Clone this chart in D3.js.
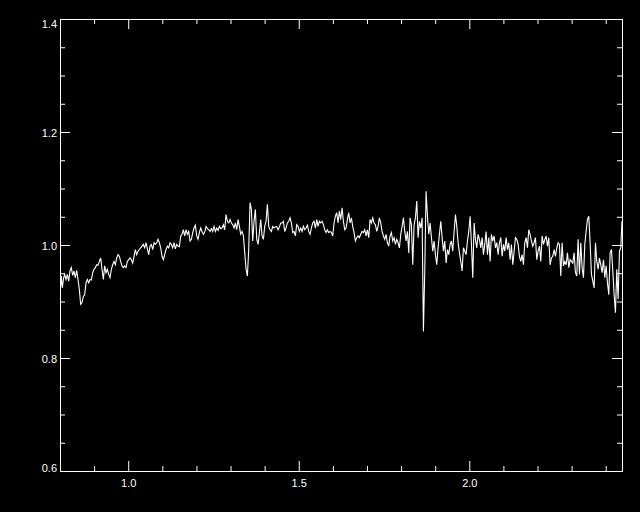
<!DOCTYPE html>
<html>
<head>
<meta charset="utf-8">
<script src="https://cdn.jsdelivr.net/npm/d3@7"></script>
<style>
  body { margin: 0; background: #000; }
  svg { display: block; background: #000; }
  .axis text { fill: #fff; font-family: "Liberation Sans", Arial, sans-serif; font-size: 11px; }
  .axis line { stroke: #fff; stroke-width: 1; }
  .axis path { display: none; }
</style>
</head>
<body>
<svg id="chart" width="640" height="512"></svg>
<script>
// spectrum
const wavelength = [
  0.8020, 0.8039, 0.8068, 0.8108, 0.8137,
  0.8176, 0.8215, 0.8254, 0.8293, 0.8332, 0.8372, 0.8411, 0.8450, 0.8489, 0.8528,
  0.8567, 0.8606, 0.8645, 0.8684, 0.8723, 0.8763, 0.8802, 0.8841, 0.8880, 0.8919,
  0.8958, 0.8997, 0.9036, 0.9075, 0.9114, 0.9154, 0.9193, 0.9232, 0.9271, 0.9310,
  0.9349, 0.9388, 0.9427, 0.9466, 0.9505, 0.9545, 0.9584, 0.9623, 0.9662, 0.9701,
  0.9740, 0.9779, 0.9818, 0.9857, 0.9896, 0.9936, 0.9975, 1.0014, 1.0053, 1.0092,
  1.0131, 1.0170, 1.0209, 1.0248, 1.0287, 1.0327, 1.0366, 1.0405, 1.0444, 1.0483,
  1.0522, 1.0561, 1.0600, 1.0639, 1.0678, 1.0718, 1.0757, 1.0796, 1.0835, 1.0874,
  1.0913, 1.0952, 1.0991, 1.1030, 1.1069, 1.1109, 1.1148, 1.1187,
  1.1226, 1.1265, 1.1304, 1.1343, 1.1382, 1.1422, 1.1461, 1.1500, 1.1539, 1.1578,
  1.1617, 1.1656, 1.1695, 1.1734, 1.1773, 1.1813, 1.1852, 1.1891, 1.1930, 1.1969,
  1.2008, 1.2047, 1.2086, 1.2125, 1.2164, 1.2204, 1.2243, 1.2282, 1.2321, 1.2360,
  1.2399, 1.2438, 1.2477, 1.2516, 1.2555, 1.2595, 1.2634, 1.2673, 1.2712, 1.2751,
  1.2790, 1.2829, 1.2868, 1.2907, 1.2946, 1.2986, 1.3025, 1.3064, 1.3103, 1.3142,
  1.3181, 1.3220, 1.3259, 1.3298, 1.3337, 1.3377, 1.3416, 1.3455, 1.3494, 1.3533,
  1.3572, 1.3611, 1.3650, 1.3689, 1.3728, 1.3768, 1.3807, 1.3846, 1.3885, 1.3924,
  1.3963, 1.4002, 1.4041, 1.4080, 1.4119, 1.4159, 1.4198, 1.4237, 1.4276, 1.4315,
  1.4354, 1.4393, 1.4432, 1.4471,
  1.4510, 1.4549, 1.4588, 1.4627, 1.4666, 1.4706, 1.4745, 1.4784, 1.4823, 1.4862,
  1.4901, 1.4940, 1.4979, 1.5018, 1.5057, 1.5097, 1.5136, 1.5175, 1.5214, 1.5253,
  1.5292, 1.5331, 1.5370, 1.5409, 1.5448, 1.5488, 1.5527, 1.5566, 1.5605, 1.5644,
  1.5683, 1.5722, 1.5761, 1.5800, 1.5839, 1.5879, 1.5918, 1.5957, 1.5996, 1.6035,
  1.6074, 1.6113, 1.6152, 1.6191, 1.6230, 1.6270, 1.6309, 1.6348, 1.6387, 1.6426,
  1.6465, 1.6504, 1.6543, 1.6582, 1.6621, 1.6661, 1.6700, 1.6739, 1.6778, 1.6817,
  1.6856, 1.6895, 1.6934, 1.6973, 1.7012, 1.7052, 1.7091, 1.7130, 1.7169, 1.7208,
  1.7247, 1.7286, 1.7325, 1.7364, 1.7403, 1.7443, 1.7482, 1.7521, 1.7560, 1.7599,
  1.7638, 1.7677, 1.7716, 1.7755,
  1.7795, 1.7834, 1.7873, 1.7912, 1.7951, 1.7991, 1.8030, 1.8069, 1.8108, 1.8147,
  1.8186, 1.8225, 1.8264, 1.8303, 1.8342, 1.8382, 1.8421, 1.8460, 1.8499, 1.8538,
  1.8577, 1.8616, 1.8655, 1.8694, 1.8733, 1.8773, 1.8812, 1.8851, 1.8890, 1.8929,
  1.8968, 1.9007, 1.9046, 1.9085, 1.9124, 1.9164, 1.9203, 1.9242, 1.9281, 1.9320,
  1.9359, 1.9398, 1.9437, 1.9476, 1.9515, 1.9555, 1.9594, 1.9633, 1.9672, 1.9711,
  1.9750, 1.9789, 1.9828, 1.9867, 1.9906, 1.9946, 1.9985, 2.0024, 2.0063, 2.0102,
  2.0141, 2.0180, 2.0219, 2.0258, 2.0297, 2.0337, 2.0376, 2.0415, 2.0454, 2.0493,
  2.0532, 2.0571, 2.0610, 2.0649, 2.0688, 2.0728, 2.0767, 2.0806, 2.0845, 2.0884,
  2.0923, 2.0962, 2.1001, 2.1040,
  2.1079, 2.1118, 2.1157, 2.1196, 2.1235, 2.1275, 2.1314, 2.1353, 2.1392, 2.1431,
  2.1470, 2.1509, 2.1548, 2.1587, 2.1626, 2.1666, 2.1705, 2.1744, 2.1783, 2.1822,
  2.1861, 2.1900, 2.1939, 2.1978, 2.2017, 2.2057, 2.2096, 2.2135, 2.2174, 2.2213,
  2.2252, 2.2291, 2.2330, 2.2369, 2.2408, 2.2448, 2.2487, 2.2526, 2.2565, 2.2604,
  2.2643, 2.2682, 2.2721, 2.2760, 2.2799, 2.2839, 2.2878, 2.2917, 2.2956, 2.2995,
  2.3034, 2.3073, 2.3112, 2.3151, 2.3190, 2.3230, 2.3269, 2.3308, 2.3347, 2.3386,
  2.3425, 2.3464, 2.3503, 2.3542, 2.3581, 2.3621, 2.3660, 2.3699, 2.3738, 2.3777,
  2.3816, 2.3855, 2.3894, 2.3933, 2.3972, 2.4012, 2.4051, 2.4090, 2.4129, 2.4168,
  2.4207, 2.4246, 2.4285, 2.4324, 2.4363, 2.4403, 2.4442, 2.4475
];

const flux = [
  0.927, 0.945, 0.924, 0.942, 0.948,
  0.939, 0.948, 0.936, 0.954, 0.960, 0.946, 0.954, 0.942, 0.955, 0.939,
  0.921, 0.895, 0.898, 0.909, 0.912, 0.933, 0.939, 0.933, 0.939, 0.938,
  0.951, 0.957, 0.960, 0.965, 0.964, 0.971, 0.977, 0.957, 0.939, 0.963,
  0.951, 0.957, 0.948, 0.942, 0.957, 0.965, 0.971, 0.965, 0.977, 0.983,
  0.980, 0.971, 0.963, 0.960, 0.963, 0.960, 0.971, 0.974, 0.977, 0.974,
  0.968, 0.980, 0.992, 0.983, 0.989, 0.992, 0.995, 0.998, 1.001, 0.995,
  1.004, 0.993, 0.983, 0.998, 1.001, 0.992, 1.004, 1.001, 1.004, 1.010,
  1.004, 0.995, 0.980, 0.974, 0.983, 0.992, 0.998, 0.995,
  1.004, 1.001, 0.995, 1.004, 0.993, 1.001, 0.998, 0.997, 1.016, 1.019,
  1.027, 1.016, 1.027, 1.019, 1.024, 1.007, 1.010, 1.022, 1.030, 1.035,
  1.016, 1.010, 1.022, 1.030, 1.024, 1.019, 1.023, 1.033, 1.029, 1.027,
  1.024, 1.029, 1.024, 1.033, 1.024, 1.030, 1.026, 1.033, 1.029, 1.030,
  1.036, 1.027, 1.054, 1.042, 1.039, 1.045, 1.039, 1.036, 1.030, 1.039,
  1.027, 1.045, 1.033, 1.019, 1.024, 1.016, 0.986, 0.957, 0.945, 0.992,
  1.075, 1.063, 1.007, 1.042, 1.063, 1.010, 1.001, 1.022, 1.045, 1.016,
  1.010, 1.033, 1.042, 1.072, 1.033, 1.027, 1.024, 1.033, 1.030, 1.032,
  1.033, 1.027, 1.032, 1.039,
  1.039, 1.042, 1.024, 1.030, 1.039, 1.042, 1.048, 1.039, 1.022, 1.024,
  1.016, 1.036, 1.033, 1.024, 1.030, 1.024, 1.033, 1.027, 1.030, 1.035,
  1.024, 1.019, 1.030, 1.039, 1.042, 1.030, 1.045, 1.033, 1.042, 1.039,
  1.042, 1.036, 1.027, 1.022, 1.027, 1.022, 1.024, 1.022, 1.016, 1.039,
  1.051, 1.057, 1.039, 1.060, 1.045, 1.066, 1.042, 1.027, 1.030, 1.045,
  1.057, 1.039, 1.048, 1.033, 1.022, 1.007, 1.013, 1.016, 1.013, 1.019,
  1.024, 1.022, 1.027, 1.016, 1.027, 1.013, 1.045, 1.039, 1.048, 1.039,
  1.036, 1.024, 1.033, 1.048, 1.039, 1.024, 1.016, 1.010, 1.019, 1.004,
  0.998, 1.016, 1.022, 1.007,
  1.013, 1.001, 1.010, 1.004, 0.995, 1.019, 1.033, 1.048, 1.024, 1.007,
  1.024, 0.986, 1.048, 1.036, 0.965, 1.036, 1.048, 1.078, 1.013, 1.042,
  1.030, 1.048, 0.847, 0.954, 1.095, 1.051, 1.019, 1.039, 1.013, 0.989,
  1.007, 0.983, 0.965, 0.995, 1.019, 1.042, 1.013, 0.989, 1.007, 0.968,
  0.992, 0.983, 1.001, 1.007, 0.989, 1.024, 1.054, 1.033, 1.004, 0.986,
  0.971, 0.954, 0.995, 0.989, 0.983, 1.007, 1.024, 1.051, 1.001, 0.942,
  1.039, 1.010, 0.995, 1.019, 1.010, 0.995, 1.013, 0.983, 1.001, 1.024,
  0.983, 1.013, 0.971, 1.019, 1.007, 1.016, 0.995, 1.004, 0.983, 1.004,
  1.013, 0.980, 1.001, 0.989,
  1.013, 0.992, 1.004, 0.974, 1.001, 0.965, 0.989, 1.013, 1.010, 1.001,
  0.980, 0.971, 0.983, 0.965, 1.004, 1.013, 0.995, 1.027, 1.019, 1.007,
  0.998, 1.004, 1.013, 0.974, 0.989, 0.998, 0.971, 1.016, 1.001, 1.010,
  1.016, 0.998, 1.013, 0.965, 0.977, 0.980, 0.992, 0.980, 0.995, 1.004,
  1.001, 0.945, 1.004, 0.963, 0.971, 0.965, 0.986, 0.960, 0.974, 0.971,
  0.968, 0.986, 0.951, 0.945, 1.010, 0.948, 1.004, 0.960, 0.942, 1.001,
  1.024, 1.045, 1.051, 1.004, 0.948, 0.936, 0.924, 1.004, 0.971, 0.957,
  0.977, 0.965, 0.951, 0.974, 0.942, 0.963, 0.933, 0.912, 0.986, 0.992,
  0.954, 0.912, 0.880, 0.957, 0.904, 0.989, 0.995, 1.042
];

const xMajorTicks = [1.0, 1.5, 2.0];
const xMinorTicks = [0.9, 1.1, 1.2, 1.3, 1.4, 1.6, 1.7, 1.8, 1.9, 2.1, 2.2, 2.3, 2.4];
const yMajorTicks = [0.6, 0.8, 1.0, 1.2, 1.4];
const yMinorTicks = [0.65, 0.7, 0.75, 0.85, 0.9, 0.95, 1.05, 1.1, 1.15, 1.25, 1.3, 1.35];

const plotLeft = 60, plotRight = 622, plotTop = 19, plotBottom = 471;

const svg = d3.select("#chart");

const x = d3.scaleLinear().domain([0.8, 2.4477]).range([plotLeft, plotRight]);
const y = d3.scaleLinear().domain([0.6, 1.4]).range([plotBottom, plotTop]);

svg.append("clipPath").attr("id", "plotClip")
  .append("rect")
  .attr("x", plotLeft).attr("y", plotTop)
  .attr("width", plotRight - plotLeft).attr("height", plotBottom - plotTop);

// spectrum
const points = wavelength.map((w, i) => [w, flux[i]]);
const line = d3.line().x(d => x(d[0])).y(d => y(d[1]));

svg.append("path")
  .datum(points)
  .attr("clip-path", "url(#plotClip)")
  .attr("d", line)
  .attr("fill", "none")
  .attr("stroke", "#fff")
  .attr("stroke-width", 1.1)
  .attr("stroke-linejoin", "miter");

// ticks, all pointing inward
function addAxis(axis, tx, ty) {
  return svg.append("g").attr("class", "axis")
    .attr("transform", `translate(${tx},${ty})`)
    .call(axis);
}

const fmt = d3.format(".1f");

const bottomAxis = addAxis(d3.axisBottom(x).tickValues(xMajorTicks).tickSize(-10).tickSizeOuter(0).tickFormat(fmt), 0, plotBottom);
bottomAxis.selectAll("text").attr("y", 16).attr("dy", 0);
addAxis(d3.axisBottom(x).tickValues(xMinorTicks).tickSize(-5).tickSizeOuter(0).tickFormat(""), 0, plotBottom);
addAxis(d3.axisTop(x).tickValues(xMajorTicks).tickSize(-10).tickSizeOuter(0).tickFormat(""), 0, plotTop);
addAxis(d3.axisTop(x).tickValues(xMinorTicks).tickSize(-5).tickSizeOuter(0).tickFormat(""), 0, plotTop);

const leftAxis = addAxis(d3.axisLeft(y).tickValues(yMajorTicks).tickSize(-10).tickSizeOuter(0).tickFormat(fmt), plotLeft, 0);
leftAxis.selectAll("text")
  .attr("x", -3)
  .attr("dy", 0)
  .attr("y", d => d === 1.4 ? 8 : (d === 0.6 ? 0 : 4));
addAxis(d3.axisLeft(y).tickValues(yMinorTicks).tickSize(-5).tickSizeOuter(0).tickFormat(""), plotLeft, 0);
addAxis(d3.axisRight(y).tickValues(yMajorTicks).tickSize(-10).tickSizeOuter(0).tickFormat(""), plotRight, 0);
addAxis(d3.axisRight(y).tickValues(yMinorTicks).tickSize(-5).tickSizeOuter(0).tickFormat(""), plotRight, 0);

// frame
svg.append("rect")
  .attr("x", plotLeft).attr("y", plotTop)
  .attr("width", plotRight - plotLeft).attr("height", plotBottom - plotTop)
  .attr("fill", "none")
  .attr("stroke", "#fff")
  .attr("stroke-width", 1)
  .attr("shape-rendering", "crispEdges");
</script>
</body>
</html>
